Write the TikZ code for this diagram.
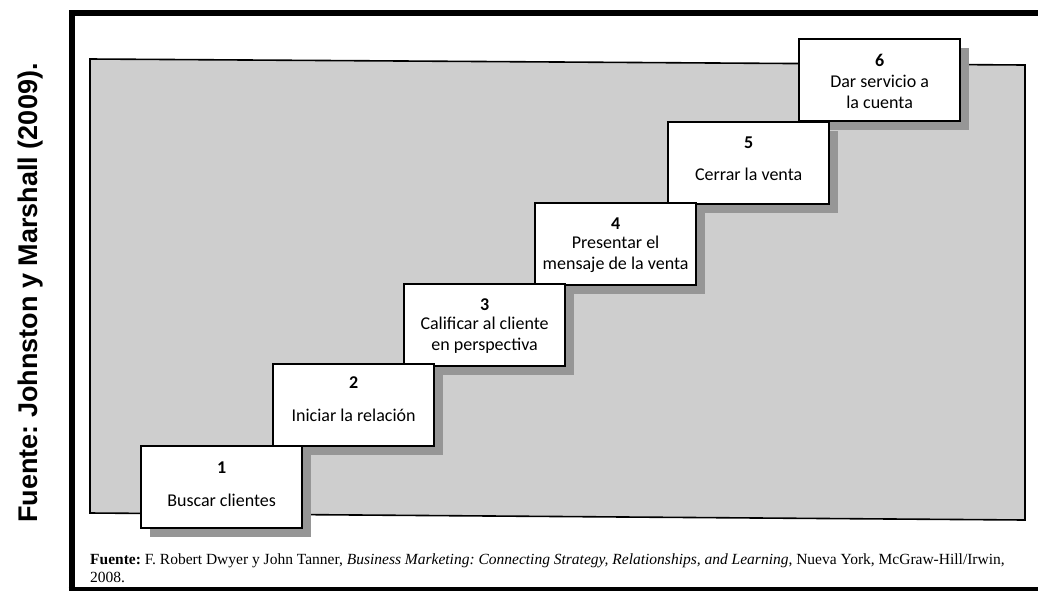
\documentclass[tikz,border=0pt]{standalone}
\usepackage{fontspec}
\setmainfont{Liberation Serif}
\newfontfamily\boxfont{Carlito}
\newfontfamily\sidefont{Liberation Sans}
\usetikzlibrary{calc,shadows}
\definecolor{pagegrey}{RGB}{206,206,206}
\definecolor{shadowgrey}{RGB}{150,150,150}
\frenchspacing
\tikzset{
  stepbox/.style={draw=black, line width=2.2pt, fill=white,
    minimum width=161pt, minimum height=82pt, inner sep=0pt, anchor=north west,
    drop shadow={shadow xshift=9pt, shadow yshift=-9pt, fill=shadowgrey, opacity=1}},
  stepnum/.style={font=\boxfont\fontsize{18}{21}\selectfont\bfseries, inner sep=0pt},
  steptext/.style={font=\boxfont\fontsize{18}{21}\selectfont, align=center, inner sep=0pt},
  srcline/.style={font=\fontsize{15.5}{18}\selectfont, anchor=base west, inner sep=0pt},
}
\begin{document}
\begin{tikzpicture}[x=1pt, y=-1pt]
  \useasboundingbox (0,0) rectangle (1038,590);
  \fill[white] (0,0) rectangle (1038,590);

  % outer frame (runs past the right edge)
  \draw[line width=6pt] (71.5,13) -- (1060,13);
  \draw[line width=6pt] (71.5,10) -- (71.5,593);
  \draw[line width=6pt] (68.5,590) -- (1060,590);

  % grey page area behind the steps
  \draw[fill=pagegrey, line width=1.6pt] (90,59) -- (1025,65) -- (1025,520) -- (90,513) -- cycle;

  % steps, top one first so each lower step sits over the shadow above it
  \node[stepbox] (s6) at (798,38) {};
  \node[stepnum] (n6) at ($(s6.north)+(0,22)$) {6};
  \node[steptext] (t6) at ($(s6.north)+(0,54)$) {Dar servicio a\\la cuenta};

  \node[stepbox] (s5) at (667,121) {};
  \node[stepnum] (n5) at ($(s5.north)+(0,22)$) {5};
  \node[steptext] (t5) at ($(s5.north)+(0,53)$) {Cerrar la venta};

  \node[stepbox] (s4) at (534,202) {};
  \node[stepnum] (n4) at ($(s4.north)+(0,22)$) {4};
  \node[steptext] (t4) at ($(s4.north)+(0,52)$) {Presentar el\\mensaje de la venta};

  \node[stepbox] (s3) at (403,283) {};
  \node[stepnum] (n3) at ($(s3.north)+(0,22)$) {3};
  \node[steptext] (t3) at ($(s3.north)+(0,52)$) {Calificar al cliente\\en perspectiva};

  \node[stepbox] (s2) at (272,363) {};
  \node[stepnum] (n2) at ($(s2.north)+(0,20)$) {2};
  \node[steptext] (t2) at ($(s2.north)+(0,52)$) {Iniciar la relación};

  \node[stepbox] (s1) at (140,445) {};
  \node[stepnum] (n1) at ($(s1.north)+(0,23)$) {1};
  \node[steptext] (t1) at ($(s1.north)+(0,55)$) {Buscar clientes};

  % source lines
  \node[srcline] (src1) at (90,564) {\textbf{Fuente:} F. Robert Dwyer y John Tanner, \textit{Business Marketing: Connecting Strategy, Relationships, and Learning}, Nueva York, McGraw-Hill/Irwin,};
  \node[srcline] (src2) at (90,582) {2008.};

  % side caption
  \node[rotate=90, anchor=base, inner sep=0pt, font=\sidefont\bfseries\fontsize{27}{30}\selectfont] (side) at (37,293) {Fuente: Johnston y Marshall (2009).};
\end{tikzpicture}
\end{document}
